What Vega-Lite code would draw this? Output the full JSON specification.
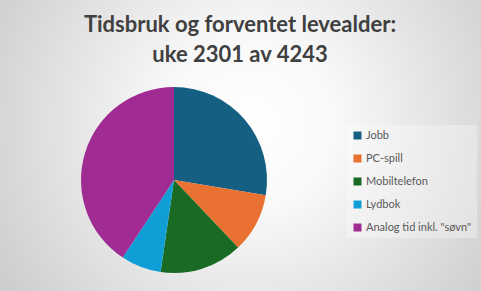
{
  "$schema": "https://vega.github.io/schema/vega-lite/v6.json",
  "width": 614,
  "height": 360,
  "autosize": {"type": "none"},
  "padding": {"left": -133, "top": 0, "right": 0, "bottom": -69},
  "background": "#d4d4d4",
  "view": {
    "stroke": null,
    "fill": {
      "gradient": "radial",
      "x1": 0.624, "y1": 0.41, "r1": 0,
      "x2": 0.624, "y2": 0.41, "r2": 0.55,
      "stops": [
        {"offset": 0, "color": "#ffffff"},
        {"offset": 0.25, "color": "#f9f9f9"},
        {"offset": 1, "color": "#c4c4c4"}
      ]
    }
  },
  "title": {
    "text": ["Tidsbruk og forventet levealder:", "uke 2301 av 4243"],
    "anchor": "middle",
    "frame": "group",
    "dx": 66,
    "offset": -67,
    "baseline": "top",
    "fontSize": 22,
    "font": "Lato",
    "fontWeight": "bold",
    "color": "#404040",
    "lineHeight": 30
  },
  "data": {
    "values": [
      {"nr": 1, "aktivitet": "Jobb", "andel": 27.6},
      {"nr": 2, "aktivitet": "PC-spill", "andel": 10.3},
      {"nr": 3, "aktivitet": "Mobiltelefon", "andel": 14.4},
      {"nr": 4, "aktivitet": "Lydbok", "andel": 7.0},
      {"nr": 5, "aktivitet": "Analog tid inkl. \"søvn\"", "andel": 40.7}
    ]
  },
  "mark": {"type": "arc", "radius": 93},
  "encoding": {
    "theta": {"field": "andel", "type": "quantitative", "stack": true},
    "order": {"field": "nr", "type": "quantitative", "sort": "ascending"},
    "color": {
      "field": "aktivitet",
      "type": "nominal",
      "scale": {
        "domain": ["Jobb", "PC-spill", "Mobiltelefon", "Lydbok", "Analog tid inkl. \"søvn\""],
        "range": ["#156082", "#E97132", "#196B24", "#0F9ED5", "#A02B93"]
      },
      "legend": {
        "title": null,
        "orient": "none",
        "legendX": 480,
        "legendY": 125,
        "symbolType": "square",
        "symbolSize": 64,
        "symbolStrokeWidth": 0,
        "labelFontSize": 11,
        "labelFont": "Lato",
        "labelColor": "#595959",
        "rowPadding": 11,
        "padding": 5,
        "labelOffset": 3,
        "labelLimit": 200,
        "fillColor": "rgba(255,255,255,0.3)"
      }
    }
  }
}
